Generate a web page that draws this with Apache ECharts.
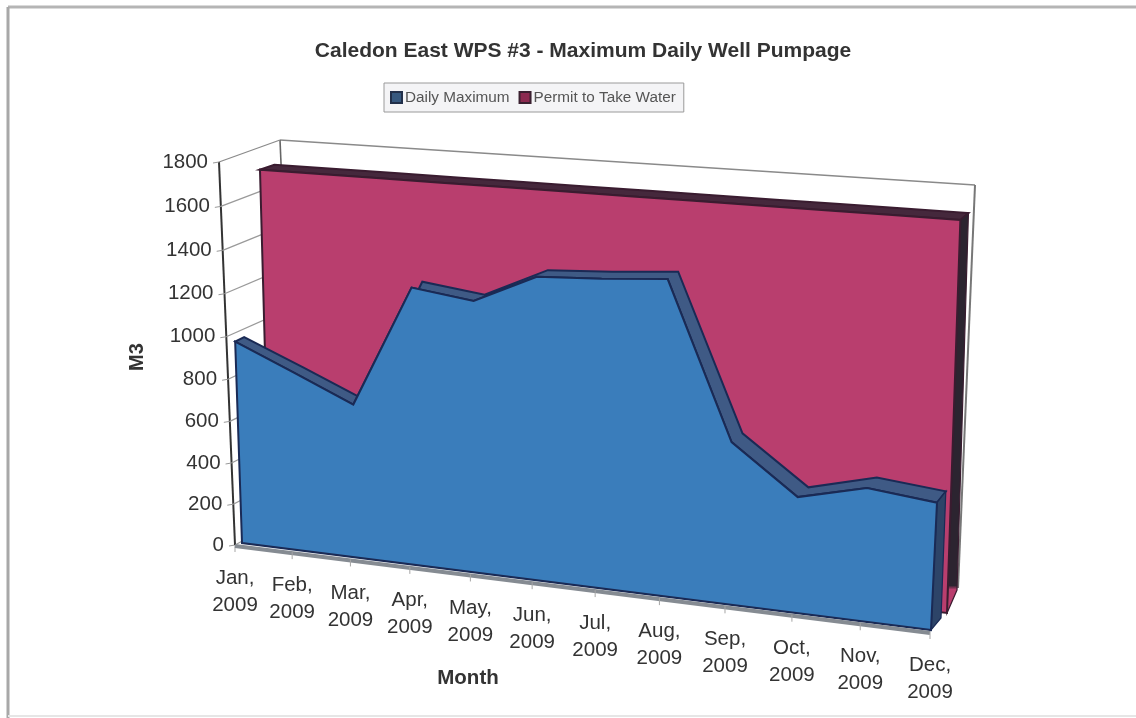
<!DOCTYPE html>
<html><head><meta charset="utf-8">
<style>html,body{margin:0;padding:0;background:#fff}#c{width:1136px;height:718px;filter:blur(0.7px)}</style>
<script src="https://cdn.jsdelivr.net/npm/echarts@6/dist/echarts.min.js"></script>
</head><body><div id="c"></div>
<script>
const categories = ["Jan, 2009","Feb, 2009","Mar, 2009","Apr, 2009","May, 2009","Jun, 2009","Jul, 2009","Aug, 2009","Sep, 2009","Oct, 2009","Nov, 2009","Dec, 2009"];
const dailyMaximum = [966,847,725,1285,1248,1377,1390,1411,728,517,589,558];
const permitToTakeWater = [1720,1720,1720,1720,1720,1720,1720,1720,1720,1720,1720,1720];
const yTicks = [0,200,400,600,800,1000,1200,1400,1600,1800];

// Perspective planes of the 3-D box: [bottom-left, bottom-right, top-right, top-left]
const PLANE = {
  wallFront: [[235,545],[930,632],[950,207],[219,162]],
  wallBack:  [[296,512],[958,588],[975,185],[280,140]],
  redFront:  [[270,537],[947,613],[961,201],[259.5,152]],
  redBack:   [[282,535],[957,590],[969,195],[274,147]],
  blueFront: [[242,543],[931,630],[951,205],[229,160]],
  blueBack:  [[251,540],[941,618],[957,197],[238,155]]
};
function homography(q){
  const [x0,y0]=q[0],[x1,y1]=q[1],[x2,y2]=q[2],[x3,y3]=q[3];
  const dx1=x1-x2,dy1=y1-y2,dx2=x3-x2,dy2=y3-y2,sx=x0-x1+x2-x3,sy=y0-y1+y2-y3;
  const den=dx1*dy2-dx2*dy1, g=(sx*dy2-dx2*sy)/den, h=(dx1*sy-sx*dy1)/den;
  const a=x1-x0+g*x1,b=x3-x0+h*x3,d=y1-y0+g*y1,e=y3-y0+h*y3;
  return (u,v)=>{const w=g*u+h*v+1;return [(a*u+b*v+x0)/w,(d*u+e*v+y0)/w];};
}
const H={}; Object.keys(PLANE).forEach(k=>H[k]=homography(PLANE[k]));
function proj(api,params,plane,i,val){
  const p=api.coord([i,val]), cs=params.coordSys;
  return H[plane]((p[0]-cs.x)/cs.width, 1-(p[1]-cs.y)/cs.height);
}
const idx=categories.map((_,i)=>i), last=categories.length-1;

function areaRender(values,front,back,c){
  return function(params,api){
    if(params.dataIndex!==0) return null;
    const f=idx.map(i=>proj(api,params,front,i,values[i]));
    const b=idx.map(i=>proj(api,params,back,i,values[i]));
    const fb0=proj(api,params,front,0,0), fb1=proj(api,params,front,last,0), bb1=proj(api,params,back,last,0);
    return {type:'group',children:[
      {type:'polygon',shape:{points:f.concat(b.slice().reverse())},style:{fill:c.band,stroke:c.edge,lineWidth:2}},
      {type:'polygon',shape:{points:[f[last],b[last],bb1,fb1]},style:{fill:c.side,stroke:c.edge,lineWidth:1.2}},
      {type:'polygon',shape:{points:[fb0].concat(f,[fb1])},style:{fill:c.face,stroke:c.edge,lineWidth:2}}
    ]};
  };
}
const ink='#333', font='Liberation Sans';
const option={
  animation:false,
  backgroundColor:'#fff',
  title:{text:'Caledon East WPS #3 - Maximum Daily Well Pumpage',left:578,top:36,textAlign:'center',
    textStyle:{fontFamily:font,fontSize:21,fontWeight:'bold',color:ink}},
  legend:{data:['Daily Maximum','Permit to Take Water'],left:384,top:83,padding:[7,8,7,6],itemWidth:11,itemHeight:11,itemGap:9,
    icon:'rect',borderColor:'#9a9a9a',borderWidth:1,backgroundColor:'#f4f4f6',selectedMode:false,
    textStyle:{fontFamily:font,fontSize:15.3,color:'#555',padding:[0,0,0,-2]}},
  grid:{left:0,right:0,top:0,bottom:0,show:false},
  xAxis:{type:'category',data:categories,boundaryGap:false,show:false},
  yAxis:{type:'value',min:0,max:1800,interval:200,show:false},
  graphic:[
    {type:'line',shape:{x1:8,y1:7,x2:1136,y2:7},style:{stroke:'#b5b5b5',lineWidth:3},z:0},
    {type:'line',shape:{x1:8,y1:7,x2:8,y2:718},style:{stroke:'#a8a8a8',lineWidth:3},z:0},
    {type:'line',shape:{x1:8,y1:716,x2:1136,y2:716},style:{stroke:'#e6e6e6',lineWidth:2},z:0}
  ],
  series:[
    {name:'Walls',type:'custom',clip:false,silent:true,data:yTicks.map(t=>[0,t]),
     renderItem(params,api){
      const v=yTicks[params.dataIndex], a=proj(api,params,'wallFront',0,v), b=proj(api,params,'wallBack',0,v);
      const kids=[
        {type:'line',shape:{x1:a[0]-6,y1:a[1]+1,x2:a[0],y2:a[1]},style:{stroke:'#999',lineWidth:1}},
        {type:'line',shape:{x1:a[0],y1:a[1],x2:b[0],y2:b[1]},style:{stroke:v===1800?'#8a8a8a':'#9a9a9a',lineWidth:1.3}},
        {type:'text',style:{x:a[0]-11,y:a[1],text:String(v),textAlign:'right',textVerticalAlign:'middle',fontFamily:font,fontSize:20.5,fill:ink}}
      ];
      if(params.dataIndex===0){
        const tl=proj(api,params,'wallFront',0,1800), ftr=proj(api,params,'wallBack',last,1800), bbr=proj(api,params,'wallBack',last,0),
              btl=proj(api,params,'wallBack',0,1800), bbl=proj(api,params,'wallBack',0,0);
        kids.push({type:'line',shape:{x1:a[0],y1:a[1],x2:tl[0],y2:tl[1]},style:{stroke:'#333',lineWidth:2}});
        kids.push({type:'line',shape:{x1:btl[0],y1:btl[1],x2:ftr[0],y2:ftr[1]},style:{stroke:'#8a8a8a',lineWidth:1.5}});
        kids.push({type:'line',shape:{x1:ftr[0],y1:ftr[1],x2:bbr[0],y2:bbr[1]},style:{stroke:'#777',lineWidth:2}});
        kids.push({type:'line',shape:{x1:btl[0],y1:btl[1],x2:bbl[0],y2:bbl[1]},style:{stroke:'#666',lineWidth:1.6}});
      }
      return {type:'group',children:kids};
     }},
    {name:'Permit to Take Water',type:'custom',clip:false,silent:true,itemStyle:{color:'#8c2a50',borderColor:'#3a2030',borderWidth:1},
     data:idx.map(i=>[i,permitToTakeWater[i]]),
     renderItem:areaRender(permitToTakeWater,'redFront','redBack',{face:'#b93e6e',edge:'#3a1c30',band:'#45283c',
       side:{type:'linear',x:0,y:0,x2:0,y2:1,colorStops:[{offset:0,color:'#2c2430'},{offset:.93,color:'#2c2430'},{offset:.94,color:'#b93e6e'},{offset:1,color:'#b93e6e'}]}})},
    {name:'Daily Maximum',type:'custom',clip:false,silent:true,itemStyle:{color:'#37597f',borderColor:'#22304a',borderWidth:1},
     data:idx.map(i=>[i,dailyMaximum[i]]),
     renderItem:areaRender(dailyMaximum,'blueFront','blueBack',{face:'#3a7dbb',edge:'#1a2a55',band:'#3f5a85',side:'#2d4468'})},
    {name:'Floor',type:'custom',clip:false,silent:true,data:idx.map(i=>[i,0]),
     renderItem(params,api){
      const i=params.dataIndex, p=proj(api,params,'wallFront',i,0), kids=[];
      const t=categories[i].split(' ');
      kids.push({type:'line',shape:{x1:p[0],y1:p[1],x2:p[0],y2:p[1]+7},style:{stroke:'#a5a5a5',lineWidth:1}});
      kids.push({type:'text',style:{x:p[0],y:p[1]+47,text:t[0]+'\n'+t[1],textAlign:'center',textVerticalAlign:'middle',lineHeight:27,fontFamily:font,fontSize:20.5,fill:ink}});
      if(i===0){
        const q=proj(api,params,'wallFront',last,0);
        kids.push({type:'line',shape:{x1:p[0],y1:p[1]+1,x2:q[0],y2:q[1]+1},style:{stroke:'#858b92',lineWidth:4}});
        kids.push({type:'text',style:{x:468,y:678,text:'Month',textAlign:'center',textVerticalAlign:'middle',fontFamily:font,fontSize:20.5,fontWeight:'bold',fill:ink}});
        kids.push({type:'text',rotation:Math.PI/2,x:137,y:357,style:{x:0,y:0,text:'M3',textAlign:'center',textVerticalAlign:'middle',fontFamily:font,fontSize:20,fontWeight:'bold',fill:ink}});
      }
      return {type:'group',children:kids};
     }}
  ]
};
const chart=echarts.init(document.getElementById('c'),null,{renderer:'canvas'});
chart.setOption(option);
</script></body></html>
